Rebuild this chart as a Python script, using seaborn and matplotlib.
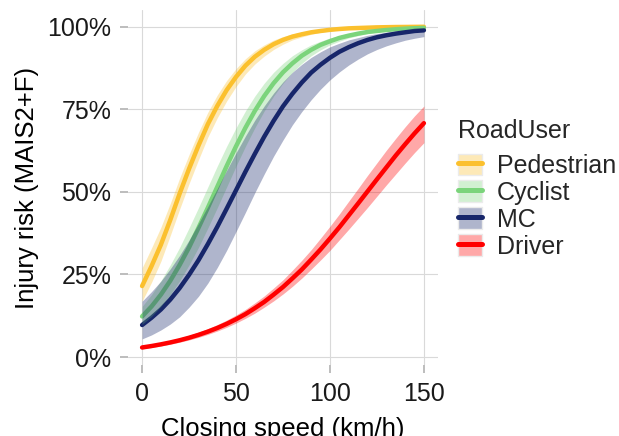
import matplotlib
matplotlib.use("Agg")
import matplotlib.pyplot as plt
import seaborn as sns
import pandas as pd
from matplotlib.lines import Line2D
from matplotlib.patches import Patch
from matplotlib.colors import to_rgba
from matplotlib.ticker import FuncFormatter

# closing speed grid (km/h) and injury risk (%)
speed = list(range(0, 155, 5))

ped_mid = [21.5, 27.5, 34, 41.5, 49.5, 57, 64, 70.5, 76, 80.8, 84.8, 88.2, 90.9, 93, 94.7, 96,
           97, 97.7, 98.3, 98.7, 99.05, 99.3, 99.5, 99.6, 99.7, 99.8, 99.85, 99.9, 99.92, 99.95, 99.97]
ped_lo = [16.9, 22.6, 29.0, 36.8, 44.8, 52.5, 59.7, 66.6, 72.4, 77.5, 81.9, 85.7, 88.7, 91.1, 93.1, 94.7,
          96.0, 96.9, 97.7, 98.3, 98.7, 99.05, 99.32, 99.46, 99.6, 99.73, 99.8, 99.86, 99.89, 99.93, 99.96]
ped_hi = [27.0, 33.0, 39.3, 46.5, 54.2, 61.3, 68.0, 74.1, 79.3, 83.7, 87.3, 90.3, 92.7, 94.5, 95.95, 97.0,
          97.8, 98.3, 98.7, 99.03, 99.3, 99.48, 99.63, 99.7, 99.78, 99.85, 99.89, 99.93, 99.94, 99.96, 99.98]

cyc_mid = [12.3, 15.3, 18.9, 23.1, 27.9, 33.2, 39.1, 45.2, 51.5, 57.8, 63.8, 69.4, 74.5, 79.0, 82.9, 86.2,
           88.9, 91.2, 93.0, 94.5, 95.6, 96.6, 97.3, 97.9, 98.4, 98.7, 99.0, 99.23, 99.4, 99.53, 99.64]
cyc_lo = [9.9, 12.3, 15.3, 18.9, 23.1, 27.9, 33.2, 39.1, 45.2, 51.5, 57.8, 63.8, 69.4, 74.5, 79.0, 82.9,
          86.2, 88.9, 91.2, 93.0, 94.5, 95.6, 96.6, 97.3, 97.9, 98.4, 98.7, 99.0, 99.23, 99.4, 99.53]
cyc_hi = [15.3, 18.9, 23.1, 27.9, 33.2, 39.1, 45.2, 51.5, 57.8, 63.8, 69.4, 74.5, 79.0, 82.9, 86.2, 88.9,
          91.2, 93.0, 94.5, 95.6, 96.6, 97.3, 97.9, 98.4, 98.7, 99.0, 99.23, 99.4, 99.53, 99.64, 99.72]

mc_mid = [9.7, 11.9, 14.4, 17.4, 20.9, 24.9, 29.3, 34.2, 39.4, 44.9, 50.5, 56.1, 61.5, 66.7, 71.5, 75.9,
          79.7, 83.1, 86.1, 88.5, 90.6, 92.4, 93.8, 95.0, 96.0, 96.8, 97.4, 97.9, 98.3, 98.7, 98.9]
mc_lo = [5.5, 6.7, 8.2, 10.0, 12.2, 15.1, 18.4, 22.4, 27.1, 32.3, 38.0, 43.8, 49.75, 55.4, 60.8, 65.7,
         70.3, 74.3, 77.9, 81.1, 83.9, 86.3, 88.4, 90.2, 91.8, 93.1, 94.2, 95.1, 95.9, 96.5, 97.0]
mc_hi = [16.9, 19.8, 23.0, 26.7, 30.8, 35.4, 40.4, 45.6, 51.0, 56.5, 61.8, 66.9, 71.7, 76.0, 79.9, 83.3,
         86.2, 88.6, 90.7, 92.4, 93.9, 95.0, 96.0, 96.7, 97.4, 97.9, 98.3, 98.6, 98.9, 99.1, 99.3]

drv_mid = [2.9, 3.34, 3.85, 4.43, 5.09, 5.85, 6.72, 7.7, 8.8, 10.05, 11.45, 13.0, 14.8, 16.7, 18.9, 21.2,
           23.8, 26.5, 29.5, 32.6, 35.9, 39.3, 42.9, 46.5, 50.15, 53.8, 57.4, 61.0, 64.4, 67.7, 70.8]
drv_lo = [2.49, 2.89, 3.35, 3.88, 4.49, 5.18, 5.97, 6.86, 7.87, 9.01, 10.29, 11.73, 13.3, 15.1, 17.0, 19.1,
          21.4, 23.9, 26.6, 29.4, 32.3, 35.5, 38.7, 42.0, 45.3, 48.7, 52.1, 55.4, 58.7, 61.9, 64.9]
drv_hi = [3.38, 3.86, 4.42, 5.05, 5.78, 6.60, 7.55, 8.61, 9.82, 11.19, 12.73, 14.44, 16.4, 18.5, 20.9, 23.4,
          26.3, 29.3, 32.5, 36.0, 39.6, 43.3, 47.2, 51.05, 55.0, 58.8, 62.6, 66.2, 69.7, 73.0, 76.0]

road_users = ["Pedestrian", "Cyclist", "MC", "Driver"]
colors = ["#FBC02D", "#7BD47B", "#17266A", "#FF0000"]

sns.set_style("whitegrid")
plt.rcParams["font.family"] = ["Liberation Sans", "DejaVu Sans"]

mids = [ped_mid, cyc_mid, mc_mid, drv_mid]
los = [ped_lo, cyc_lo, mc_lo, drv_lo]
his = [ped_hi, cyc_hi, mc_hi, drv_hi]

df = pd.concat([pd.DataFrame({"speed": speed, "risk": m, "RoadUser": u})
                for m, u in zip(mids, road_users)], ignore_index=True)
palette = dict(zip(road_users, colors))

fig = plt.figure(figsize=(6.19, 4.36), dpi=100)
ax = fig.add_axes([128 / 619, 71 / 436, 310 / 619, 354.5 / 436])

# lines first, ribbons on top (the navy ribbon dulls the green line like in the original)
sns.lineplot(data=df, x="speed", y="risk", hue="RoadUser", hue_order=road_users,
             palette=palette, estimator=None, lw=3.2, legend=False, ax=ax, zorder=2)
for lo, hi, c in zip(los, his, colors):
    ax.fill_between(speed, lo, hi, color=c, alpha=0.34, lw=0, zorder=3)

ax.set_xlim(-7.5, 157.5)
ax.set_ylim(-2.4, 104.9)
ax.set_xticks([0, 50, 100, 150])
ax.set_yticks([0, 25, 50, 75, 100])
ax.yaxis.set_major_formatter(FuncFormatter(lambda v, p: f"{v:.0f}%"))
ax.grid(True, color="#D9D9D9", lw=0.8)
for s in ax.spines.values():
    s.set_visible(False)
ax.tick_params(axis="both", bottom=True, left=True, length=6, width=1.4, color="#BDBDBD",
               labelsize=18, labelcolor="#1A1A1A", pad=6)
ax.set_xlabel("Closing speed (km/h)", fontsize=18.5, color="black", labelpad=8)
ax.set_ylabel("Injury risk (MAIS2+F)", fontsize=18.5, color="black", labelpad=6)

fig.text(458 / 619, 1 - 138.3 / 436, "RoadUser", fontsize=18, va="baseline", ha="left")
handles = [(Patch(facecolor=to_rgba(c, 0.34), edgecolor="#EBEBEB", lw=1),
            Line2D([], [], color=c, lw=3.6)) for c in colors]
fig.legend(handles, road_users, loc="upper left",
           bbox_to_anchor=(458 / 619, 1 - 153.5 / 436), frameon=False,
           fontsize=18, handlelength=0.96, handleheight=0.95,
           handletextpad=0.59, labelspacing=0.1, borderpad=0, borderaxespad=0)

plt.savefig("out.png", dpi=100)
